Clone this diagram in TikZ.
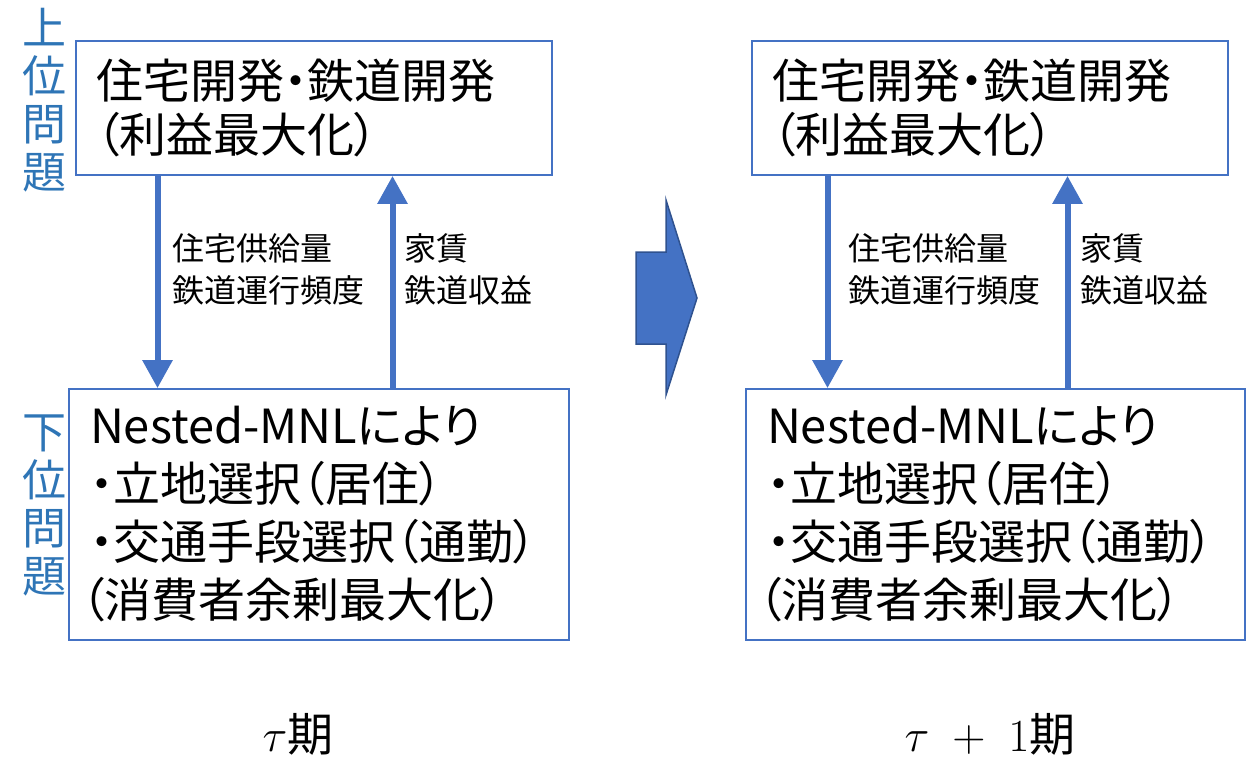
\RequirePackage{fix-cm}
\documentclass[tikz,border=0pt]{standalone}
\usepackage{fontspec}
\setmainfont{Noto Sans CJK JP}[RawFeature=+palt]
\usetikzlibrary{arrows.meta}
\definecolor{boxblue}{HTML}{4472C4}
\definecolor{sideblue}{HTML}{2E75B6}
\definecolor{darkblue}{HTML}{2F528F}
\tikzset{
  box/.style={draw=boxblue, line width=1.8pt, align=left, inner xsep=20pt, inner ysep=0pt,
    font=\fontsize{47}{54}\selectfont},
  lowbox/.style={box, inner xsep=21pt, font=\fontsize{47}{58}\selectfont},
  arr/.style={draw=boxblue, line width=6pt, -{Triangle[length=28pt,width=29pt]}},
  elabel/.style={font=\fontsize{32}{42}\selectfont, align=left, anchor=west, inner sep=0pt},
  side/.style={text=sideblue, font=\fontsize{44}{48}\selectfont, align=center, inner sep=0pt},
  period/.style={font=\fontsize{46}{48}\selectfont, inner sep=0pt},
  blockarrow/.style={fill=boxblue, draw=darkblue, line width=1.5pt},
}
\begin{document}
\begin{tikzpicture}[x=1pt,y=-1pt]
\useasboundingbox (0,0) rectangle (1250,762);
% left period
\node[box, text width=436pt, minimum height=134pt] (tl) at (314,108) {住宅開発・鉄道開発\\（利益最大化）};
\node[lowbox, text width=458pt, minimum height=251pt] (bl) at (319,514.5) {Nested-MNLにより\\・立地選択（居住）\\・交通手段選択（通勤）\\\hspace*{-9pt}（消費者余剰最大化）};
\coordinate (dl) at (157.5,0);
\coordinate (ul) at (392.5,0);
\draw[arr] (tl.south -| dl) -- (bl.north -| dl);
\draw[arr] (bl.north -| ul) -- (tl.south -| ul);
\node[elabel] (el1) at (172,269) {住宅供給量\\鉄道運行頻度};
\node[elabel] (el2) at (404,269) {家賃\\鉄道収益};
\node[side] (s1) at (44,100) {上\\位\\問\\題};
\node[side] (s2) at (44,505) {下\\位\\問\\題};
% right period
\node[box, text width=436pt, minimum height=134pt] (tr) at (990,108) {住宅開発・鉄道開発\\（利益最大化）};
\node[lowbox, text width=457pt, minimum height=251pt] (br) at (995.5,514.5) {Nested-MNLにより\\・立地選択（居住）\\・交通手段選択（通勤）\\\hspace*{-9pt}（消費者余剰最大化）};
\coordinate (dr) at (827.5,0);
\coordinate (ur) at (1067.5,0);
\draw[arr] (tr.south -| dr) -- (br.north -| dr);
\draw[arr] (br.north -| ur) -- (tr.south -| ur);
\node[elabel] (er1) at (848,269) {住宅供給量\\鉄道運行頻度};
\node[elabel] (er2) at (1080,269) {家賃\\鉄道収益};
% block arrow
\path[blockarrow] (636,252) -- (666,252) -- (666,200) -- (697,298) -- (666,395) -- (666,344) -- (636,344) -- cycle;
% period labels
\node[period] (p1) at (298,734) {$\tau$期};
\node[period] (p2) at (990,734) {$\tau\;+\;1$期};
\end{tikzpicture}
\end{document}
